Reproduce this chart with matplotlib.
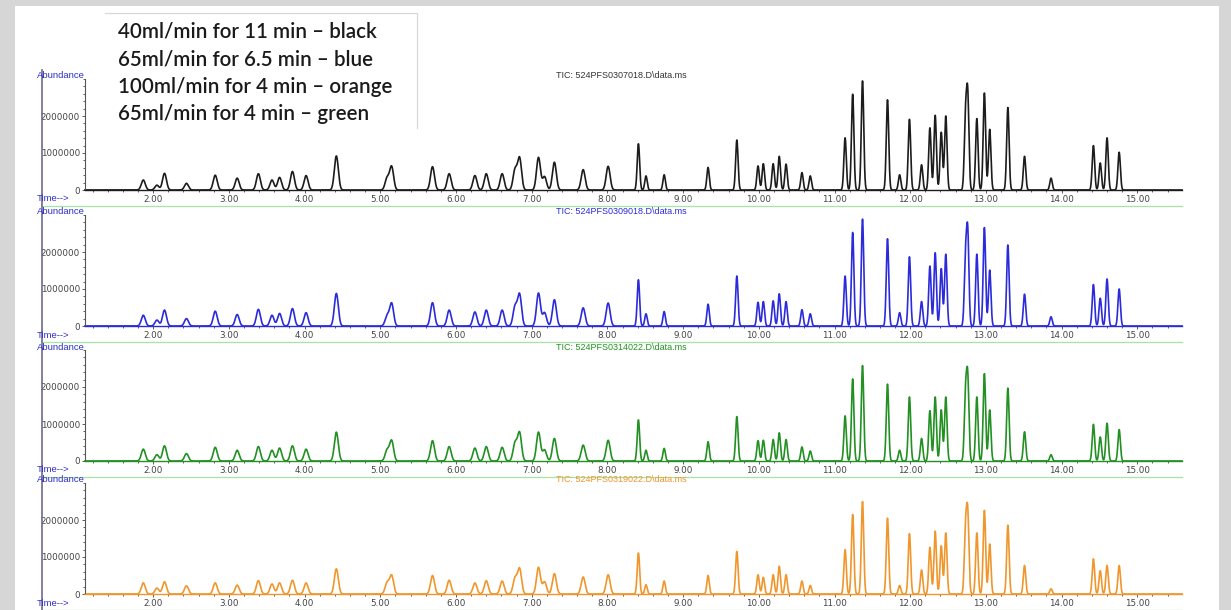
import numpy as np
import matplotlib
matplotlib.use("Agg")
import matplotlib.pyplot as plt
from matplotlib.patches import Rectangle
from matplotlib.ticker import MultipleLocator, FixedLocator, FuncFormatter

# retention times (min) of the peaks, same for all four runs
peak_times = [1.87, 2.05, 2.15, 2.44, 2.82, 3.11, 3.39, 3.57, 3.67, 3.84, 4.02, 4.42,
              5.09, 5.15, 5.69, 5.91, 6.25, 6.40, 6.61, 6.78, 6.84, 7.09, 7.17, 7.30,
              7.68, 8.01, 8.41, 8.51, 8.75, 9.33, 9.71, 9.99, 10.06, 10.19, 10.27, 10.36,
              10.57, 10.68, 11.14, 11.24, 11.37, 11.70, 11.86, 11.99, 12.15, 12.26, 12.33,
              12.41, 12.47, 12.73, 12.76, 12.88, 12.98, 13.05, 13.29, 13.51, 13.86, 14.42,
              14.51, 14.60, 14.76]

# peak heights, millions of counts
black_heights = [0.27, 0.13, 0.45, 0.18, 0.40, 0.32, 0.44, 0.27, 0.34, 0.50, 0.39, 0.92,
                 0.32, 0.63, 0.63, 0.44, 0.39, 0.44, 0.44, 0.54, 0.86, 0.88, 0.36, 0.75,
                 0.55, 0.64, 1.25, 0.38, 0.41, 0.61, 1.35, 0.65, 0.71, 0.71, 0.91, 0.70,
                 0.47, 0.38, 1.41, 2.59, 2.95, 2.44, 0.41, 1.91, 0.68, 1.68, 2.02,
                 1.56, 2.00, 1.86, 2.45, 1.93, 2.62, 1.64, 2.23, 0.91, 0.32, 1.20,
                 0.73, 1.41, 1.02]
blue_heights = [0.29, 0.16, 0.43, 0.20, 0.40, 0.31, 0.45, 0.29, 0.34, 0.47, 0.36, 0.88,
                0.27, 0.61, 0.63, 0.43, 0.38, 0.43, 0.43, 0.52, 0.85, 0.89, 0.36, 0.71,
                0.49, 0.62, 1.25, 0.33, 0.39, 0.59, 1.35, 0.64, 0.66, 0.68, 0.87, 0.66,
                0.44, 0.33, 1.35, 2.53, 2.89, 2.36, 0.36, 1.87, 0.66, 1.62, 1.98,
                1.55, 1.94, 1.71, 2.42, 1.94, 2.66, 1.51, 2.19, 0.86, 0.25, 1.12,
                0.75, 1.27, 1.00]
green_heights = [0.32, 0.17, 0.41, 0.20, 0.37, 0.29, 0.39, 0.29, 0.35, 0.41, 0.32, 0.78,
                 0.29, 0.55, 0.55, 0.39, 0.35, 0.39, 0.37, 0.48, 0.76, 0.78, 0.30, 0.61,
                 0.43, 0.56, 1.11, 0.29, 0.34, 0.52, 1.20, 0.55, 0.56, 0.58, 0.76, 0.58,
                 0.38, 0.27, 1.22, 2.22, 2.58, 2.08, 0.29, 1.73, 0.61, 1.36, 1.73,
                 1.38, 1.73, 1.70, 2.15, 1.73, 2.36, 1.38, 1.97, 0.79, 0.17, 0.99,
                 0.65, 1.02, 0.85]
orange_heights = [0.30, 0.16, 0.33, 0.22, 0.30, 0.24, 0.36, 0.27, 0.30, 0.37, 0.30, 0.68,
                  0.30, 0.50, 0.50, 0.37, 0.30, 0.36, 0.35, 0.42, 0.68, 0.72, 0.33, 0.55,
                  0.46, 0.52, 1.11, 0.25, 0.35, 0.50, 1.15, 0.52, 0.45, 0.52, 0.75, 0.52,
                  0.35, 0.23, 1.20, 2.15, 2.50, 2.05, 0.23, 1.63, 0.65, 1.26, 1.70,
                  1.30, 1.65, 1.65, 2.08, 1.65, 2.26, 1.35, 1.86, 0.77, 0.14, 0.95,
                  0.63, 0.77, 0.77]

file_names = ["524PFS0307018.D\\data.ms", "524PFS0309018.D\\data.ms",
              "524PFS0314022.D\\data.ms", "524PFS0319022.D\\data.ms"]
legend_lines = ["40ml/min for 11 min \u2013 black",
                "65ml/min for 6.5 min \u2013 blue",
                "100ml/min for 4 min \u2013 orange",
                "65ml/min for 4 min \u2013 green"]

runs = [black_heights, blue_heights, green_heights, orange_heights]
colors = ["#1c1c1c", "#2b2bdc", "#239023", "#f0962c"]
title_colors = ["#333333", "#2b2bdc", "#239023", "#f0962c"]
label_blue = "#2e2ec8"

W, H = 1231, 610
fig = plt.figure(figsize=(W / 100, H / 100), dpi=100)
fig.patch.set_facecolor("#d6d6d6")


def fx(px):
    return px / W


def fy(py):
    return 1 - py / H


# white slide area
fig.patches.append(Rectangle((fx(15), 0), fx(1219 - 15), fy(6), transform=fig.transFigure,
                             facecolor="white", edgecolor="none", zorder=-5))

baselines = [190, 326, 461, 594]
px_per_million = 37.0
x_left, x_right = 85, 1182
t_min, t_max = 1.10, 15.59
y_top = 3.0

t = np.linspace(t_min, t_max, 8000)
centers = np.array(peak_times)
sig = np.where(centers < 8.2, 0.026, 0.016)

for i, heights in enumerate(runs):
    yb = baselines[i]
    h_px = y_top * px_per_million
    ax = fig.add_axes([fx(x_left), fy(yb), fx(x_right - x_left), h_px / H])
    signal = np.zeros_like(t)
    for c, h, s in zip(centers, heights, sig):
        signal += h * 1e6 * np.exp(-0.5 * ((t - c) / s) ** 2)
    ax.plot(t, signal, color=colors[i], lw=1.2, clip_on=False)
    ax.set_xlim(t_min, t_max)
    ax.set_ylim(0, y_top * 1e6)
    ax.set_facecolor("none")
    for sp in ["top", "right"]:
        ax.spines[sp].set_visible(False)
    ax.spines["left"].set_color("#555555")
    ax.spines["left"].set_linewidth(0.8)
    ax.spines["bottom"].set_color(colors[i])
    ax.spines["bottom"].set_linewidth(1.0)
    ax.xaxis.set_major_locator(FixedLocator(np.arange(2, 16)))
    ax.xaxis.set_minor_locator(MultipleLocator(0.2))
    ax.xaxis.set_major_formatter(FuncFormatter(lambda v, p: "%.2f" % v))
    ax.yaxis.set_major_locator(FixedLocator([0, 1e6, 2e6]))
    ax.yaxis.set_minor_locator(MultipleLocator(2e5))
    ax.yaxis.set_major_formatter(FuncFormatter(lambda v, p: "%d" % v))
    ax.tick_params(axis="both", which="major", labelsize=6.3, colors="#444444",
                   length=2.5, width=0.6, pad=1.0)
    ax.tick_params(axis="both", which="minor", length=1.5, width=0.6, colors="#444444")

    # labels and title of each run
    fig.text(fx(37), fy(yb - 114), "Abundance", fontsize=6.8, color=label_blue,
             ha="left", va="center", family="Liberation Sans")
    fig.text(fx(37), fy(yb + 9), "Time-->", fontsize=6.8, color=label_blue,
             ha="left", va="center", family="Liberation Sans")
    fig.text(fx(621), fy(yb - 114), "TIC: " + file_names[i], fontsize=6.5,
             color=title_colors[i], ha="center", va="center", family="Liberation Sans")
    # green separator under the time axis
    fig.lines.append(plt.Line2D([fx(42), fx(x_right)], [fy(yb + 16), fy(yb + 16)],
                                transform=fig.transFigure, color="#a6e4a6", lw=0.9))

# outer vertical line through all panels
fig.lines.append(plt.Line2D([fx(42), fx(42)], [fy(70), 0], transform=fig.transFigure,
                            color="#6b6b8c", lw=1.2))

# text box with flow conditions (only top and right edges are visible)
fig.patches.append(Rectangle((fx(105), fy(128)), fx(417 - 105), (128 - 13) / H,
                             transform=fig.transFigure, facecolor="white",
                             edgecolor="none", zorder=5))
fig.lines.append(plt.Line2D([fx(105), fx(417), fx(417)], [fy(13), fy(13), fy(128)],
                            transform=fig.transFigure, color="#d8d8d8", lw=0.9, zorder=6))
for k, line in enumerate(legend_lines):
    fig.text(fx(118), fy(32 + k * 27.3), line, fontsize=14.8, color="#1a1a1a",
             ha="left", va="center", family="Lato", fontweight="semibold", zorder=7)

fig.savefig("out.png", dpi=100, facecolor=fig.get_facecolor())
